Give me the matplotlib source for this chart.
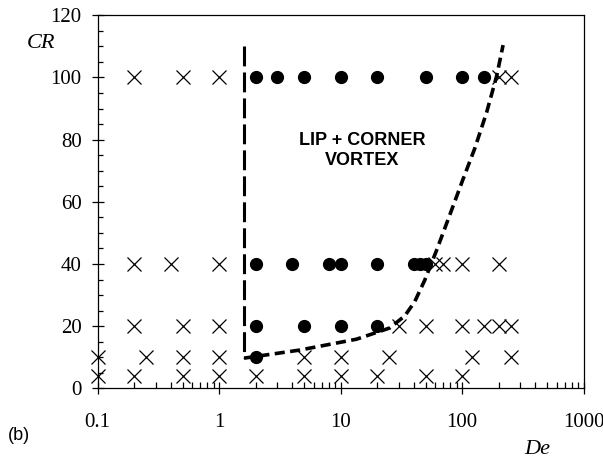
import matplotlib
matplotlib.use("Agg")
import matplotlib.pyplot as plt
from matplotlib.ticker import MultipleLocator, LogLocator, FixedLocator, NullFormatter

# ---- data ----
# filled circles: LIP + CORNER vortex observed
vortex_cr100 = [2, 3, 5, 10, 20, 50, 100, 150]
vortex_cr40 = [2, 4, 8, 10, 20, 40, 45, 50]
vortex_cr20 = [2, 5, 10, 20]
vortex_cr10 = [2]

# crosses: no lip + corner vortex
novortex_cr100 = [0.2, 0.5, 1, 200, 250]
novortex_cr40 = [0.2, 0.4, 1, 60, 70, 100, 200]
novortex_cr20 = [0.2, 0.5, 1, 30, 50, 100, 150, 200, 250]
novortex_cr10 = [0.1, 0.25, 0.5, 1, 5, 10, 25, 120, 250]
novortex_cr4 = [0.1, 0.2, 0.5, 1, 2, 5, 10, 20, 50, 100]

# boundary lines
vline_de = [1.6, 1.6]
vline_cr = [110, 9.7]
curve_de = [1.6, 4.6, 13.5, 25.3, 33.7, 40.7, 49.2, 61.7, 78.9, 101, 127, 159, 192, 217]
curve_cr = [9.7, 12.3, 15.8, 19.4, 23.3, 27.9, 34.8, 44.5, 55.7, 67.0, 77.2, 88.8, 100.4, 110.4]

x_ticks = [0.1, 1, 10, 100, 1000]
x_ticklabels = ["0.1", "1", "10", "100", "1000"]
y_ticks = [0, 20, 40, 60, 80, 100, 120]

# ---- figure ----
fig = plt.figure(figsize=(6.03, 4.62), dpi=100)
ax = fig.add_axes([0.162, 0.1595, 0.806, 0.8075])

serif = ["Liberation Serif", "DejaVu Serif"]
sans = ["Liberation Sans", "DejaVu Sans"]

dot_rows = [(vortex_cr100, 100), (vortex_cr40, 40), (vortex_cr20, 20), (vortex_cr10, 10)]
cross_rows = [(novortex_cr100, 100), (novortex_cr40, 40), (novortex_cr20, 20),
              (novortex_cr10, 10), (novortex_cr4, 4)]

for des, cr in cross_rows:
    ax.plot(des, [cr] * len(des), linestyle="none", marker="x", ms=10, mew=0.9,
            color="black", clip_on=False, zorder=3)
for des, cr in dot_rows:
    ax.plot(des, [cr] * len(des), linestyle="none", marker="o", ms=8.5,
            color="black", clip_on=False, zorder=4)

ax.plot(vline_de, vline_cr, color="black", lw=2.2, dashes=(6.5, 2.0),
        dash_capstyle="butt", zorder=2)
ax.plot(curve_de, curve_cr, color="black", lw=2.6, dashes=(2.8, 1.5),
        dash_capstyle="butt", zorder=2)

ax.text(15, 76.5, "LIP + CORNER\nVORTEX", ha="center", va="center", fontsize=13,
        fontweight="bold", family=sans, linespacing=1.2)

ax.set_xscale("log")
ax.set_xlim(0.1, 1000)
ax.set_ylim(0, 120)
ax.xaxis.set_major_locator(FixedLocator(x_ticks))
ax.set_xticklabels(x_ticklabels)
ax.xaxis.set_minor_locator(LogLocator(base=10, subs=range(2, 10)))
ax.xaxis.set_minor_formatter(NullFormatter())
ax.yaxis.set_major_locator(FixedLocator(y_ticks))
ax.yaxis.set_minor_locator(MultipleLocator(5))

for sp in ax.spines.values():
    sp.set_linewidth(0.9)

ax.tick_params(axis="x", which="major", direction="inout", length=9, width=0.9, pad=13)
ax.tick_params(axis="x", which="minor", direction="in", length=4, width=0.9)
ax.tick_params(axis="y", which="major", direction="inout", length=9, width=0.9, pad=7)
ax.tick_params(axis="y", which="minor", direction="in", length=3.5, width=0.9)
for lbl in ax.get_xticklabels() + ax.get_yticklabels():
    lbl.set_family(serif)
    lbl.set_fontsize(15)

fig.text(27 / 603, 1 - 43 / 462, "CR", ha="left", va="center", fontsize=16,
         family=serif, style="italic")
fig.text(524 / 603, 1 - 450 / 462, "De", ha="left", va="center", fontsize=16,
         family=serif, style="italic")
fig.text(8 / 603, 1 - 436 / 462, "(b)", ha="left", va="center", fontsize=13,
         family=sans)

fig.savefig("out.png", dpi=100)
